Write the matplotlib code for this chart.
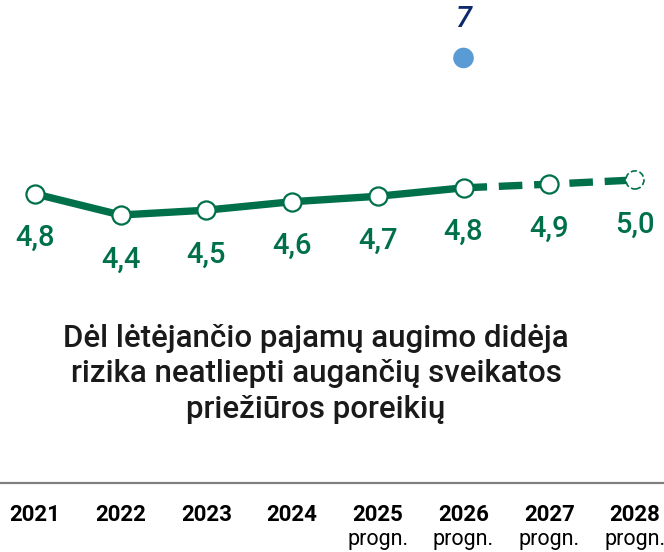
import matplotlib.pyplot as plt
import numpy as np

# data
years = ["2021", "2022", "2023", "2024", "2025", "2026", "2027", "2028"]
progn = ["", "", "", "", "progn.", "progn.", "progn.", "progn."]
values = [4.75, 4.40, 4.48, 4.62, 4.71, 4.85, 4.91, 4.98]
labels = ["4,8", "4,4", "4,5", "4,6", "4,7", "4,8", "4,9", "5,0"]
n_actual = 6  # first 6 points drawn solid, rest dashed
extra_year = "2026"
extra_value = 7.0
extra_label = "7"

title = "Dėl lėtėjančio pajamų augimo didėja\nrizika neatliepti augančių sveikatos\npriežiūros poreikių"

green = "#00704a"
blue = "#5b9bd5"
navy = "#0d2a6e"

W, H = 664, 552
fig = plt.figure(figsize=(W / 100, H / 100), dpi=100)
ax = fig.add_axes([0, 0, 1, 1])
ax.axis("off")

x = np.arange(len(years))
step = 85.7
ax.set_xlim(-35 / step, (W - 35) / step)
ppu = 60.4  # pixels per unit
ax.set_ylim(4.4 - (H - 215) / ppu, 4.4 + 215 / ppu)

ax.plot(x[:n_actual], values[:n_actual], color=green, lw=5.3, solid_capstyle="butt", zorder=2)
ax.plot(x[n_actual - 1:], values[n_actual - 1:], color=green, lw=5.3, dashes=(3.2, 1.6), zorder=2)

ax.scatter(x[:-1], values[:-1], s=170, facecolor="white", edgecolor=green, linewidth=1.6, zorder=3)
ax.scatter(x[-1:], values[-1:], s=170, facecolor="white", edgecolor=green, linewidth=1.2,
           linestyle="--", zorder=3)

for xi, v, lab in zip(x, values, labels):
    ax.annotate(lab, (xi, v), xytext=(0, -32), textcoords="offset points",
                ha="center", va="center", color=green, fontsize=21,
                fontfamily="Roboto", fontweight="medium")

xe = years.index(extra_year)
ax.scatter([xe], [extra_value], s=220, color=blue, edgecolor="none", zorder=3)
ax.annotate(extra_label, (xe, extra_value), xytext=(0, 28), textcoords="offset points",
            ha="center", va="center", color=navy, fontsize=21, style="italic",
            fontfamily="Roboto", fontweight="medium")

fig.text(316 / W, 1 - 374 / H, title, ha="center", va="center", fontsize=22.5,
         fontfamily="Roboto", fontweight="medium", color="#1a1a1a", linespacing=1.28)

# bottom rule
fig.add_artist(plt.Line2D([0, 1], [1 - 483 / H, 1 - 483 / H], color="#7f7f7f", lw=1.6))

for xi, yr, pg in zip(x, years, progn):
    fx = (35 + xi * step) / W
    fig.text(fx, 1 - 515 / H, yr, ha="center", va="center", fontsize=16,
             fontweight="bold", fontfamily="Roboto", color="black")
    if pg:
        fig.text(fx, 1 - 540 / H, pg, ha="center", va="center", fontsize=15.5,
                 fontfamily="Roboto", color="black")

fig.savefig("out.png", dpi=100)
